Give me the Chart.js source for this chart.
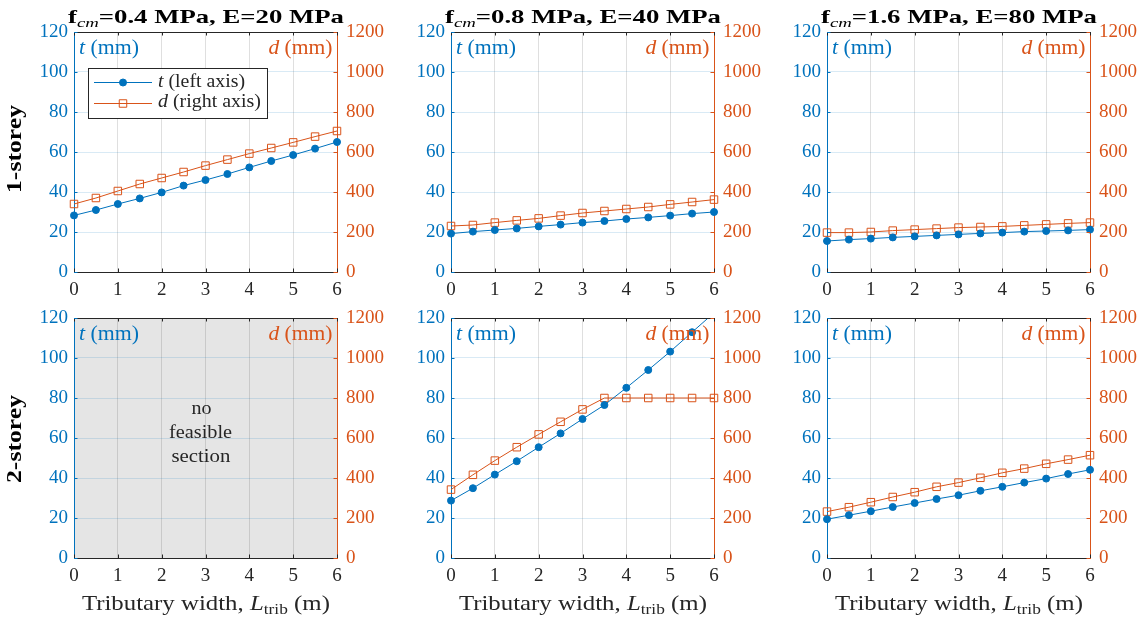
<!DOCTYPE html>
<html><head><meta charset="utf-8">
<script src="https://cdn.jsdelivr.net/npm/chart.js@4.4.0/dist/chart.umd.min.js"></script>
<style>
html,body{margin:0;padding:0;background:#fff;}
#wrap{position:relative;width:1146px;height:624px;overflow:hidden;background:#fff;}
canvas{position:absolute;}
.tx{position:absolute;white-space:nowrap;line-height:1;font-family:'Liberation Serif','Times New Roman',serif;}
.sb{font-size:0.7em;vertical-align:-0.28em;line-height:0;}
</style></head><body><div id="wrap"></div>
<script>
// ---------- data ----------
const widths = [0, 0.5, 1, 1.5, 2, 2.5, 3, 3.5, 4, 4.5, 5, 5.5, 6];
const t_1s_f04 = [28.3, 31.0, 34.0, 36.8, 39.8, 43.2, 46.0, 49.0, 52.3, 55.5, 58.5, 61.7, 65.0];
const d_1s_f04 = [340, 370, 405, 440, 470, 500, 532, 562, 592, 620, 648, 677, 705];
const t_1s_f08 = [19.2, 20.2, 21.0, 21.8, 22.8, 23.7, 24.7, 25.5, 26.5, 27.3, 28.2, 29.2, 30.0];
const d_1s_f08 = [230, 235, 247, 258, 268, 282, 295, 305, 315, 325, 338, 350, 362];
const t_1s_f16 = [15.5, 16.2, 16.7, 17.3, 17.8, 18.3, 18.8, 19.3, 19.7, 20.2, 20.5, 20.8, 21.2];
const d_1s_f16 = [197, 197, 200, 207, 212, 217, 222, 225, 228, 233, 238, 243, 247];
const t_2s_f04 = [];   // no feasible section
const d_2s_f04 = [];
const t_2s_f08 = [28.7, 34.9, 41.7, 48.4, 55.4, 62.3, 69.5, 76.5, 85.1, 94.0, 103.2, 112.9, 122.6];
const d_2s_f08 = [342, 416, 487, 554, 618, 681, 743, 800, 800, 800, 800, 800, 800];
const t_2s_f16 = [19.4, 21.4, 23.4, 25.5, 27.5, 29.5, 31.4, 33.6, 35.6, 37.7, 39.7, 42.0, 44.1];
const d_2s_f16 = [232, 254, 279, 305, 329, 356, 377, 401, 426, 447, 471, 492, 514];

const xTicks = [0, 1, 2, 3, 4, 5, 6];
const tTicks = [0, 20, 40, 60, 80, 100, 120];
const dTicks = [0, 200, 400, 600, 800, 1000, 1200];

const colTitles = ['f<span class="sb" style="font-weight:normal;font-style:italic">cm</span>=0.4 MPa, E=20 MPa',
                   'f<span class="sb" style="font-weight:normal;font-style:italic">cm</span>=0.8 MPa, E=40 MPa',
                   'f<span class="sb" style="font-weight:normal;font-style:italic">cm</span>=1.6 MPa, E=80 MPa'];
const rowTitles = ['1-storey', '2-storey'];
const xTitle = 'Tributary width, <i>L</i><span class="sb">trib</span> (m)';
const tLabel = '<i>t</i> (mm)';
const dLabel = '<i>d</i> (mm)';
const legendLabels = ['<i>t</i> (left axis)', '<i>d</i> (right axis)'];
const emptyNote = ['no', 'feasible', 'section'];

// ---------- layout ----------
const COLT = '#0072BD', COLD = '#D95319', AXC = '#262626';
const FONT = 'Liberation Serif';
const chartLefts = [74, 451, 827], chartTops = [32, 318];
const CW = 263, CH = 240, WL = 60, WR = 56, PT = 24, HX = 40;
const wrap = document.getElementById('wrap');

const panels = [
  {col:0,row:0,t:t_1s_f04,d:d_1s_f04,legend:true},
  {col:1,row:0,t:t_1s_f08,d:d_1s_f08},
  {col:2,row:0,t:t_1s_f16,d:d_1s_f16},
  {col:0,row:1,t:t_2s_f04,d:d_2s_f04,gray:true},
  {col:1,row:1,t:t_2s_f08,d:d_2s_f08},
  {col:2,row:1,t:t_2s_f16,d:d_2s_f16}
];

const bgPlugin = {
  id:'bgGray',
  beforeDraw(chart, args, opts){
    if(!opts.on) return;
    const a = chart.chartArea, ctx = chart.ctx;
    ctx.save(); ctx.fillStyle = '#e5e5e5';
    ctx.fillRect(a.left, a.top, a.right - a.left, a.bottom - a.top);
    ctx.restore();
  }
};

const framePlugin = {
  id:'frame',
  afterDraw(chart){
    const {ctx, chartArea:a, scales} = chart;
    const L = 3.5;
    ctx.save(); ctx.lineWidth = 1;
    const seg = (x1,y1,x2,y2,c)=>{ctx.strokeStyle=c;ctx.beginPath();ctx.moveTo(x1,y1);ctx.lineTo(x2,y2);ctx.stroke();};
    seg(a.left, a.top+0.5, a.right, a.top+0.5, AXC);
    scales.x.ticks.forEach(t=>{
      const px = Math.round(scales.x.getPixelForValue(t.value))+0.5;
      seg(px, a.bottom, px, a.bottom-L, AXC);
      seg(px, a.top, px, a.top+L, AXC);
    });
    scales.yL.ticks.forEach(t=>{
      const py = Math.round(scales.yL.getPixelForValue(t.value))+0.5;
      seg(a.left, py, a.left+L, py, COLT);
    });
    scales.yR.ticks.forEach(t=>{
      const py = Math.round(scales.yR.getPixelForValue(t.value))+0.5;
      seg(a.right, py, a.right-L, py, COLD);
    });
    ctx.restore();
  }
};

const legendPlugin = {
  id:'legendBox',
  afterDraw(chart, args, opts){
    if(!opts.on) return;
    const ctx = chart.ctx;
    const ox = chartLefts[0]-WL, oy = chartTops[0]-PT;
    const bx = 88-ox, by = 68-oy, bw = 179, bh = 50;
    ctx.save();
    ctx.fillStyle = '#fff'; ctx.fillRect(bx, by, bw, bh);
    ctx.strokeStyle = AXC; ctx.lineWidth = 1; ctx.strokeRect(bx+0.5, by+0.5, bw, bh);
    const rows = [{c:COLT, y:82.5-oy, style:'circle', fill:COLT, r:3.5},
                  {c:COLD, y:103.5-oy, style:'rect', fill:'rgba(0,0,0,0)', r:5.3}];
    rows.forEach(r=>{
      ctx.strokeStyle = r.c; ctx.lineWidth = 1;
      ctx.beginPath(); ctx.moveTo(94-ox, r.y); ctx.lineTo(152-ox, r.y); ctx.stroke();
      ctx.fillStyle = r.fill; ctx.strokeStyle = r.c;
      Chart.helpers.drawPoint(ctx, {pointStyle:r.style, radius:r.r, borderWidth:1, rotation:0}, 123-ox, r.y);
    });
    ctx.restore();
  }
};

const tickFont = {family:FONT, size:19};
const setTicks = arr => s => { s.ticks = arr.map(v=>({value:v})); };
const plainLabel = v => String(v);

panels.forEach(p=>{
  const cv = document.createElement('canvas');
  const W = CW+WL+WR, H = CH+PT+HX;
  cv.width = W; cv.height = H;
  cv.style.left = (chartLefts[p.col]-WL)+'px'; cv.style.top = (chartTops[p.row]-PT)+'px';
  cv.style.width = W+'px'; cv.style.height = H+'px';
  wrap.appendChild(cv);
  const clip = {left:8, right:8, top:0, bottom:8};
  const datasets = [];
  if(p.t.length){
    datasets.push({label:'t', data: widths.map((x,k)=>({x, y:p.t[k]})), yAxisID:'yL',
      borderColor:COLT, backgroundColor:COLT, borderWidth:1, tension:0,
      pointStyle:'circle', pointRadius:3.5, pointBorderWidth:1,
      pointBackgroundColor:COLT, pointBorderColor:COLT, clip});
  }
  if(p.d.length){
    datasets.push({label:'d', data: widths.map((x,k)=>({x, y:p.d[k]})), yAxisID:'yR',
      borderColor:COLD, backgroundColor:'rgba(0,0,0,0)', borderWidth:1, tension:0,
      pointStyle:'rect', pointRadius:5.3, pointBorderWidth:1,
      pointBackgroundColor:'rgba(0,0,0,0)', pointBorderColor:COLD, clip});
  }
  new Chart(cv, {
    type:'line',
    data:{datasets},
    options:{
      responsive:false, animation:false, devicePixelRatio:1,
      layout:{padding:{top:PT,left:0,right:0,bottom:0}},
      plugins:{legend:{display:false}, tooltip:{enabled:false}, title:{display:false},
               bgGray:{on:!!p.gray}, legendBox:{on:!!p.legend}},
      scales:{
        x:{type:'linear', position:'bottom', min:0, max:6,
           afterBuildTicks:setTicks(xTicks), afterFit:s=>{s.height=HX;},
           ticks:{color:AXC, font:tickFont, padding:7, maxRotation:0, autoSkip:false, callback:plainLabel},
           grid:{color:'rgba(38,38,38,0.15)', drawTicks:false, lineWidth:1},
           border:{color:AXC, width:1}},
        yL:{type:'linear', position:'left', min:0, max:120,
           afterBuildTicks:setTicks(tTicks), afterFit:s=>{s.width=WL;},
           ticks:{color:COLT, font:tickFont, padding:6, callback:plainLabel},
           grid:{color:'rgba(0,114,189,0.15)', drawTicks:false, lineWidth:1},
           border:{color:COLT, width:1}},
        yR:{type:'linear', position:'right', min:0, max:1200,
           afterBuildTicks:setTicks(dTicks), afterFit:s=>{s.width=WR;},
           ticks:{color:COLD, font:tickFont, padding:9, callback:plainLabel},
           grid:{drawOnChartArea:false, drawTicks:false},
           border:{color:COLD, width:1}}
      }
    },
    plugins:[bgPlugin, framePlugin, legendPlugin]
  });
});

// ---------- text ----------
function txt(html, o){
  const el = document.createElement('div');
  el.className = 'tx'; el.innerHTML = html;
  el.style.fontSize = o.size+'px';
  el.style.fontWeight = o.bold ? 'bold' : 'normal';
  el.style.color = o.color || '#000';
  wrap.appendChild(el);
  const nw = el.getBoundingClientRect().width;
  const s = o.w ? o.w/nw : 1;
  if(o.rot){
    el.style.left = (o.x - nw/2)+'px';
    el.style.top = (o.y - o.size/2)+'px';
    el.style.transformOrigin = '50% 50%';
    el.style.transform = 'rotate(-90deg) scaleX('+s+')';
    return;
  }
  const anchor = o.anchor || 'left';
  let left = o.x;
  if(anchor==='center') left = o.x - nw/2;
  if(anchor==='right') left = o.x - nw;
  el.style.left = left+'px';
  el.style.top = (o.y - 0.8375*o.size)+'px';
  el.style.transformOrigin = anchor==='left' ? '0 0' : anchor==='right' ? '100% 0' : '50% 0';
  el.style.transform = 'scaleX('+s+')';
}

colTitles.forEach((h,c)=>{
  txt(h, {x:chartLefts[c]+CW/2+0.5, y:22.5, size:19, bold:true, anchor:'center', w:276});
  txt(xTitle, {x:chartLefts[c]+CW/2, y:610, size:22, anchor:'center', w:248, color:AXC});
});
rowTitles.forEach((h,r)=>{
  txt(h, {x:14.7, y:[149,439][r], size:20, bold:true, rot:true, w:88});
});
panels.forEach(p=>{
  const l = chartLefts[p.col], tp = chartTops[p.row];
  txt(tLabel, {x:l+5, y:tp+21.5, size:20, color:COLT, w:60});
  txt(dLabel, {x:l+CW-5, y:tp+21.5, size:20, color:COLD, anchor:'right', w:64});
});
txt(legendLabels[0], {x:158, y:87, size:18, color:AXC, w:87});
txt(legendLabels[1], {x:158, y:107.5, size:18, color:AXC, w:103});
emptyNote.forEach((h,k)=>{
  txt(h, {x:201, y:414+24*k, size:19, color:AXC, anchor:'center', w:[20,63,59][k]});
});
</script></body></html>
